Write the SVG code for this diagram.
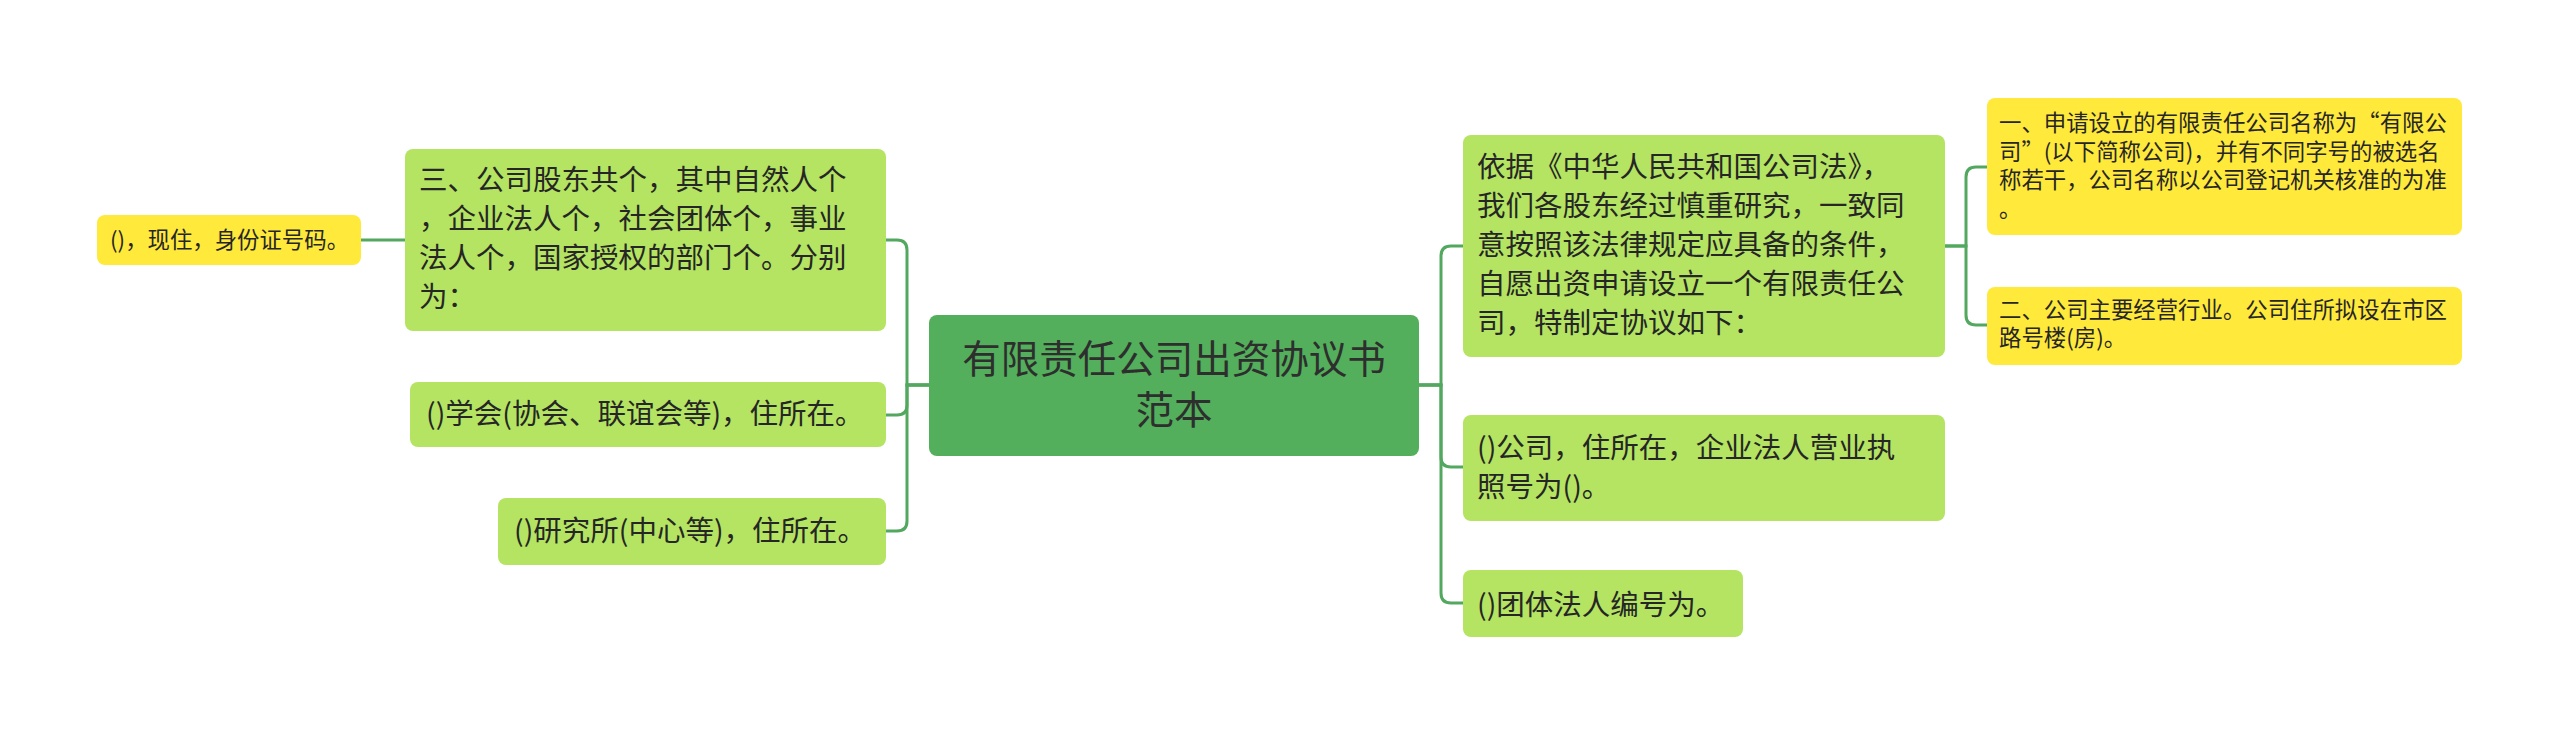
<svg xmlns="http://www.w3.org/2000/svg" width="2560" height="735" viewBox="0 0 2560 735">
<style>
  .conn { fill: none; stroke: #52A85E; stroke-width: 3; }
  .root { fill: #53AF5B; }
  .lg { fill: #B4E462; }
  .yl { fill: #FFE93A; }
  text { font-family: "Noto Sans CJK SC", "Noto Sans", sans-serif; fill: #262626; }
  .t38 { font-size: 38.5px; fill: #2e2e2e; }
  .t28 { font-size: 28.5px; }
  .t22 { font-size: 22.4px; }
  .fw { font-feature-settings: "fwid" 1; }
</style>
<rect width="2560" height="735" fill="#ffffff"/>
<g id="connectors">
  <path class="conn" d="M929,385 H907 V250 Q907,240 897,240 H885"/>
  <path class="conn" d="M929,385 H907 V405 Q907,415 897,415 H886"/>
  <path class="conn" d="M929,385 H907 V521 Q907,531 897,531 H886"/>
  <path class="conn" d="M405,240 H361"/>
  <path class="conn" d="M1419,385 H1441 V256 Q1441,246 1451,246 H1463"/>
  <path class="conn" d="M1419,385 H1441 V457 Q1441,467 1451,467 H1463"/>
  <path class="conn" d="M1419,385 H1441 V593 Q1441,603 1451,603 H1463"/>
  <path class="conn" d="M1945,246 H1966 V177 Q1966,167 1976,167 H1987"/>
  <path class="conn" d="M1945,246 H1966 V315 Q1966,325 1976,325 H1987"/>
</g>
<g id="root">
  <rect class="root" x="929" y="315" width="490" height="141" rx="8"/>
  <text class="t38" x="1174" y="373" text-anchor="middle">有限责任公司出资协议书</text>
  <text class="t38" x="1174" y="424" text-anchor="middle">范本</text>
</g>
<g id="left1">
  <rect class="lg" x="405" y="149" width="481" height="182" rx="8"/>
  <text class="t28" x="419" y="190">三、公司股东共个，其中自然人个</text>
  <text class="t28" x="419" y="229">，企业法人个，社会团体个，事业</text>
  <text class="t28" x="419" y="268">法人个，国家授权的部门个。分别</text>
  <text class="t28" x="419" y="307">为：</text>
</g>
<g id="left1a">
  <rect class="yl" x="97" y="215" width="264" height="50" rx="8"/>
  <text class="t22" x="110" y="248">()，现住，身份证号码。</text>
</g>
<g id="left2">
  <rect class="lg" x="410" y="382" width="476" height="65" rx="8"/>
  <text class="t28" x="426" y="424">()学会(协会、联谊会等)，住所在。</text>
</g>
<g id="left3">
  <rect class="lg" x="498" y="498" width="388" height="67" rx="8"/>
  <text class="t28" x="514" y="541">()研究所(中心等)，住所在。</text>
</g>
<g id="right1">
  <rect class="lg" x="1463" y="135" width="482" height="222" rx="8"/>
  <text class="t28" x="1477" y="177">依据《中华人民共和国公司法》，</text>
  <text class="t28" x="1477" y="216">我们各股东经过慎重研究，一致同</text>
  <text class="t28" x="1477" y="255">意按照该法律规定应具备的条件，</text>
  <text class="t28" x="1477" y="294">自愿出资申请设立一个有限责任公</text>
  <text class="t28" x="1477" y="333">司，特制定协议如下：</text>
</g>
<g id="right1a">
  <rect class="yl" x="1987" y="98" width="475" height="137" rx="8"/>
  <text class="t22" x="1999" y="131">一、申请设立的有限责任公司名称为<tspan class="fw">“</tspan>有限公</text>
  <text class="t22" x="1999" y="160">司<tspan class="fw">”</tspan>(以下简称公司)，并有不同字号的被选名</text>
  <text class="t22" x="1999" y="188">称若干，公司名称以公司登记机关核准的为准</text>
  <text class="t22" x="1999" y="217">。</text>
</g>
<g id="right1b">
  <rect class="yl" x="1987" y="287" width="475" height="78" rx="8"/>
  <text class="t22" x="1999" y="318">二、公司主要经营行业。公司住所拟设在市区</text>
  <text class="t22" x="1999" y="346">路号楼(房)。</text>
</g>
<g id="right2">
  <rect class="lg" x="1463" y="415" width="482" height="106" rx="8"/>
  <text class="t28" x="1477" y="458">()公司，住所在，企业法人营业执</text>
  <text class="t28" x="1477" y="497">照号为()。</text>
</g>
<g id="right3">
  <rect class="lg" x="1463" y="570" width="280" height="67" rx="8"/>
  <text class="t28" x="1477" y="615">()团体法人编号为。</text>
</g>
</svg>
